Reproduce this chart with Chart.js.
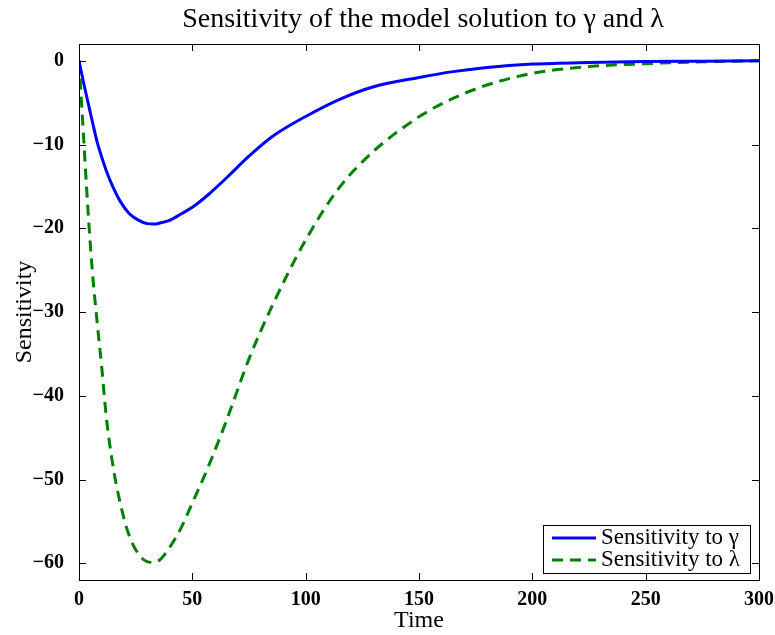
<!DOCTYPE html>
<html>
<head>
<meta charset="utf-8">
<script src="https://cdn.jsdelivr.net/npm/chart.js@4.4.0/dist/chart.umd.min.js"></script>
<style>
  html, body { margin: 0; padding: 0; background: #fff; }
  #wrap { width: 775px; height: 635px; }
</style>
</head>
<body>
<div id="wrap"><canvas id="sens-chart"></canvas></div>
<script>
// Dados
const timePoints = [0, 2, 4, 6, 8, 10, 12, 15, 18, 22, 26, 30, 33, 36, 40, 45, 50, 57, 65, 75, 85, 100, 115, 130, 150, 165, 180, 200, 225, 250, 275, 300];
const gammaSens = [0, -2.6, -5.0, -7.4, -9.7, -11.5, -13.1, -15.1, -16.7, -18.2, -19.0, -19.45, -19.5, -19.35, -19.05, -18.3, -17.5, -16.0, -14.0, -11.4, -9.1, -6.65, -4.6, -3.1, -2.0, -1.3, -0.8, -0.4, -0.2, -0.1, -0.05, 0];
const lambdaSens = [0, -9.0, -18.0, -25.5, -31.2, -36.5, -42.4, -48.4, -52.6, -56.6, -58.8, -59.8, -59.9, -59.5, -58.1, -55.8, -52.8, -48.5, -43.0, -35.6, -29.4, -21.4, -15.1, -10.8, -6.7, -4.5, -2.9, -1.5, -0.7, -0.35, -0.12, 0];
const xTicks = [0, 50, 100, 150, 200, 250, 300];
const yTicks = [-60, -50, -40, -30, -20, -10, 0];
const seriesLabels = ["Sensitivity to \u03b3", "Sensitivity to \u03bb"];
const chartTitle = "Sensitivity of the model solution to \u03b3 and \u03bb";

const serif = "'Liberation Serif', 'Times New Roman', serif";
const toPoints = (ys) => timePoints.map((t, i) => ({ x: t, y: ys[i] }));
const fmtMinus = (v) => String(v).replace("-", "\u2212");

// Moldura + ticks para dentro (estilo MATLAB) + titulo + legenda interna
const matlabFrame = {
  id: "matlabFrame",
  afterDraw(chart) {
    const { ctx, chartArea: a, scales } = chart;
    ctx.save();

    ctx.fillStyle = "#000";
    ctx.font = "28px " + serif;
    ctx.textAlign = "center";
    ctx.textBaseline = "middle";
    ctx.fillText(chartTitle, (a.left + a.right) / 2 + 4, 20);

    ctx.strokeStyle = "#000";
    ctx.lineWidth = 1;
    ctx.strokeRect(a.left + 0.5, a.top + 0.5, a.right - a.left, a.bottom - a.top);
    ctx.beginPath();
    xTicks.forEach((v) => {
      const px = Math.round(scales.x.getPixelForValue(v)) + 0.5;
      ctx.moveTo(px, a.bottom); ctx.lineTo(px, a.bottom - 7);
      ctx.moveTo(px, a.top); ctx.lineTo(px, a.top + 7);
    });
    yTicks.forEach((v) => {
      const py = Math.round(scales.y.getPixelForValue(v)) + 0.5;
      ctx.moveTo(a.left, py); ctx.lineTo(a.left + 7, py);
      ctx.moveTo(a.right, py); ctx.lineTo(a.right - 7, py);
    });
    ctx.stroke();

    // legenda
    const bx = 543, by = 525, bw = 207, bh = 48;
    ctx.fillStyle = "#fff";
    ctx.fillRect(bx, by, bw, bh);
    ctx.strokeRect(bx + 0.5, by + 0.5, bw, bh);
    const rows = [538, 560];
    chart.data.datasets.forEach((ds, i) => {
      ctx.beginPath();
      ctx.strokeStyle = ds.borderColor;
      ctx.lineWidth = ds.borderWidth;
      ctx.setLineDash(ds.borderDash || []);
      ctx.moveTo(552, rows[i]);
      ctx.lineTo(596, rows[i]);
      ctx.stroke();
      ctx.setLineDash([]);
      ctx.fillStyle = "#000";
      ctx.font = "23px " + serif;
      ctx.textBaseline = "middle";
      ctx.textAlign = "left";
      ctx.fillText(ds.label, 601, rows[i]);
    });
    ctx.restore();
  },
};

new Chart(document.getElementById("sens-chart"), {
  type: "line",
  plugins: [matlabFrame],
  data: {
    datasets: [
      {
        label: seriesLabels[0],
        data: toPoints(gammaSens),
        borderColor: "#0000ff",
        borderWidth: 3,
        pointRadius: 0,
        cubicInterpolationMode: "monotone",
      },
      {
        label: seriesLabels[1],
        data: toPoints(lambdaSens),
        borderColor: "#008000",
        borderWidth: 3,
        borderDash: [11, 7],
        pointRadius: 0,
        cubicInterpolationMode: "monotone",
      },
    ],
  },
  options: {
    responsive: true,
    maintainAspectRatio: false,
    animation: false,
    layout: { padding: { left: 0, right: 16, top: 44, bottom: 0 } },
    plugins: {
      legend: { display: false },
      tooltip: { enabled: false },
      title: { display: false },
    },
    scales: {
      x: {
        type: "linear",
        min: 0,
        max: 300,
        afterBuildTicks: (s) => { s.ticks = xTicks.map((v) => ({ value: v })); },
        afterFit: (s) => { s.height = 55; s.paddingLeft = 0; s.paddingRight = 0; },
        grid: { display: false },
        border: { display: false },
        ticks: {
          color: "#000",
          padding: 0,
          maxRotation: 0,
          font: { family: serif, size: 20, weight: "bold" },
          callback: fmtMinus,
        },
        title: {
          display: true,
          text: "Time",
          color: "#000",
          font: { family: serif, size: 24 },
          padding: { top: 0, bottom: 0 },
        },
      },
      y: {
        type: "linear",
        min: -62,
        max: 2,
        afterBuildTicks: (s) => { s.ticks = yTicks.map((v) => ({ value: v })); },
        afterFit: (s) => { s.width = 79; s.paddingTop = 0; s.paddingBottom = 0; },
        grid: { display: false },
        border: { display: false },
        ticks: {
          color: "#000",
          padding: 7,
          font: { family: serif, size: 20, weight: "bold" },
          callback: fmtMinus,
        },
        title: {
          display: true,
          text: "Sensitivity",
          color: "#000",
          font: { family: serif, size: 24 },
          padding: { top: 10, bottom: 0 },
        },
      },
    },
  },
});
</script>
</body>
</html>
